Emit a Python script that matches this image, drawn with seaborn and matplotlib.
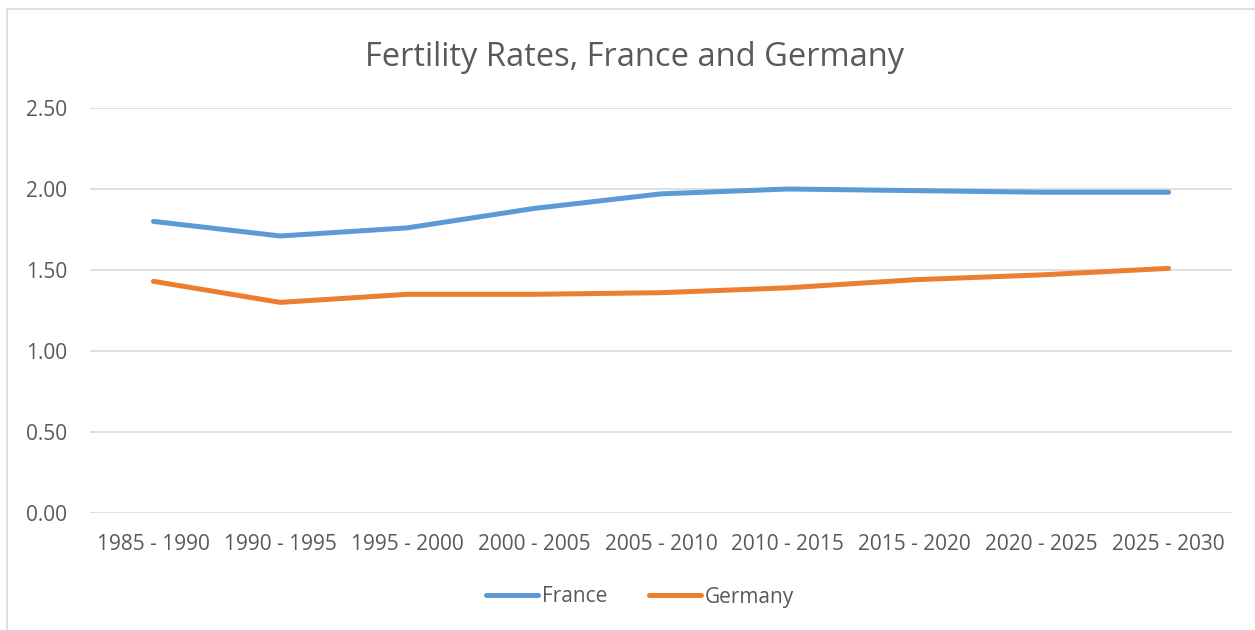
import matplotlib
matplotlib.use("Agg")
import matplotlib.pyplot as plt
import seaborn as sns
import pandas as pd
from matplotlib.patches import Rectangle

periods = ["1985 - 1990", "1990 - 1995", "1995 - 2000", "2000 - 2005", "2005 - 2010",
           "2010 - 2015", "2015 - 2020", "2020 - 2025", "2025 - 2030"]
france = [1.80, 1.71, 1.76, 1.88, 1.97, 2.00, 1.99, 1.98, 1.98]
germany = [1.43, 1.30, 1.35, 1.35, 1.36, 1.39, 1.44, 1.47, 1.51]
yticks = [0.0, 0.5, 1.0, 1.5, 2.0, 2.5]

df = pd.DataFrame({
    "period": periods * 2,
    "idx": list(range(len(periods))) * 2,
    "rate": france + germany,
    "country": ["France"] * len(periods) + ["Germany"] * len(periods),
})

sns.set_theme(style="white")
plt.rcParams['font.family'] = ['Open Sans', 'DejaVu Sans']
text_color = "#595959"

fig = plt.figure(figsize=(12.55, 6.3), dpi=100)
fig.patches.append(Rectangle((7/1255, -0.05), 1.0, 1.05 - 9/630, transform=fig.transFigure,
                             fill=False, edgecolor="#D9D9D9", linewidth=1.2))
ax = fig.add_axes([90/1255, 117/630, (1232-90)/1255, (513-108)/630])

sns.lineplot(data=df, x="idx", y="rate", hue="country",
             palette={"France": "#5B9BD5", "Germany": "#ED7D31"},
             linewidth=3.6, ax=ax, solid_capstyle="round")

ax.set_xlim(-0.5, len(periods) - 0.5)
ax.set_ylim(0, 2.5)
ax.set_yticks(yticks)
ax.set_yticklabels([f"{v:.2f}" for v in yticks], color=text_color, fontsize=15)
ax.set_xticks(range(len(periods)))
ax.set_xticklabels(periods, color=text_color, fontsize=15)
ax.tick_params(axis="both", length=0)
ax.tick_params(axis="y", pad=16.5)
ax.tick_params(axis="x", pad=15)
ax.grid(axis="y", color="#D9D9D9", linewidth=1.2)
ax.set_axisbelow(True)
for s in ax.spines.values():
    s.set_visible(False)
ax.set_xlabel("")
ax.set_ylabel("")

fig.text(635/1255, 1 - 57/630, "Fertility Rates, France and Germany", ha="center", va="center",
         fontsize=23.5, color=text_color)

handles, labels = ax.get_legend_handles_labels()
ax.legend(handles, labels, loc="center", bbox_to_anchor=(640/1255, 1 - 597/630),
          bbox_transform=fig.transFigure, ncol=2, frameon=False, fontsize=15,
          labelcolor=text_color, handlelength=2.5, handletextpad=0.2, columnspacing=2.0)

fig.savefig("out.png", dpi=100, facecolor="white")
